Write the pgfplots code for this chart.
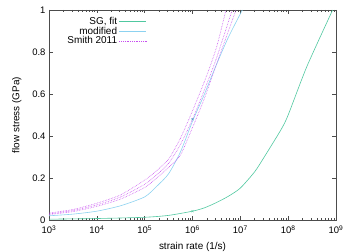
\documentclass[border=0pt]{standalone}
\usepackage{fontspec}
\setmainfont{Liberation Sans}
\usepackage{pgfplots}
\pgfplotsset{compat=1.18}
\definecolor{sg}{RGB}{80,200,160}
\definecolor{md}{RGB}{140,210,240}
\definecolor{sm}{RGB}{200,80,240}
\begin{document}
\begin{tikzpicture}
\begin{axis}[
  name=ax,
  scale only axis,
  width=287bp, height=210bp,
  xmode=log, xmin=1e3, xmax=1e9,
  ymin=0, ymax=1,
  xtick={1e3,1e4,1e5,1e6,1e7,1e8,1e9},
  xticklabels={10\textsuperscript{3},10\textsuperscript{4},10\textsuperscript{5},10\textsuperscript{6},10\textsuperscript{7},10\textsuperscript{8},10\textsuperscript{9}},
  ytick={0,0.2,0.4,0.6,0.8,1},
  yticklabels={0,0.2,0.4,0.6,0.8,1},
  tick align=inside, tick pos=both,
  major tick length=4bp, minor tick length=2bp,
  axis line style={gray!60!black, line width=0.8pt},
  every tick/.style={gray!60!black, line width=0.5pt},
  tick label style={font=\fontsize{9.5}{10}\selectfont},
  xticklabel style={yshift=-2bp},
  label style={font=\fontsize{10}{11}\selectfont},
  xlabel={strain rate (1/s)},
  ylabel={flow stress (GPa)},
  xlabel style={yshift=-1bp},
  ylabel style={yshift=4bp},
  legend style={draw=none, text=black, at={(0.352,0.985)}, anchor=north east,
    font=\fontsize{10}{11}\selectfont, legend plot pos=right, legend cell align=right,
    row sep=-3bp},
  legend image code/.code={\draw[#1] (0bp,0bp) -- (27bp,0bp);},
]
\addlegendimage{draw=sg, line width=0.8pt}
\addlegendentry{SG, fit}
\addlegendimage{draw=md, line width=0.8pt}
\addlegendentry{modified}
\addlegendimage{draw=sm, densely dotted, line width=0.8pt}
\addlegendentry{Smith 2011}
\addplot[color=sg, line width=0.6pt, smooth, tension=0.4, forget plot] coordinates {
 (1e3,0.004) (1e4,0.007) (1e5,0.013) (3.16e5,0.022) (1e6,0.042) (1.78e6,0.058)
 (3.16e6,0.083) (5.62e6,0.113) (1e7,0.152) (2e7,0.23) (3.16e7,0.30)
 (7.08e7,0.43) (1e8,0.50) (2.45e8,0.73) (8.5e8,1.0)};
\addplot[color=md, line width=0.6pt, smooth, tension=0.4, forget plot] coordinates {
 (1e3,0.02) (3.16e3,0.028) (1e4,0.042) (3.16e4,0.068) (1e5,0.11) (1.78e5,0.16)
 (3.16e5,0.22) (5.62e5,0.325) (1e6,0.47) (1.78e6,0.60) (3.16e6,0.74)
 (5.62e6,0.87) (1.1e7,1.0)};
\addplot[color=sm, densely dotted, line width=0.6pt, smooth, tension=0.4, forget plot] coordinates {
 (1e3,0.033) (3.16e3,0.05) (1e4,0.08) (3.16e4,0.12) (1e5,0.19) (1.78e5,0.235)
 (3.16e5,0.29) (5.62e5,0.39) (1e6,0.52) (1.78e6,0.66) (3.16e6,0.82) (5e6,1.0)};
\addplot[color=sm, densely dotted, line width=0.6pt, smooth, tension=0.4, forget plot] coordinates {
 (1e3,0.029) (3.16e3,0.045) (1e4,0.072) (3.16e4,0.11) (1e5,0.17) (1.78e5,0.215)
 (3.16e5,0.27) (5.62e5,0.36) (1e6,0.48) (1.78e6,0.62) (3.16e6,0.77) (6.76e6,1.0)};
\addplot[color=sm, densely dotted, line width=0.6pt, smooth, tension=0.4, forget plot] coordinates {
 (1e3,0.026) (3.16e3,0.04) (1e4,0.065) (3.16e4,0.10) (1e5,0.155) (1.78e5,0.20)
 (3.16e5,0.25) (5.62e5,0.31) (1e6,0.44) (1.78e6,0.58) (3.16e6,0.74) (8.1e6,1.0)};
\addplot[color=sg, only marks, mark=x, mark size=1.5pt, forget plot] coordinates {(1e6,0.042)};
\addplot[color=sg!70!blue, only marks, mark=x, mark size=1.5pt, forget plot] coordinates {(1e6,0.48)};
\coordinate (O) at (rel axis cs:0,0);
\end{axis}
\pgfresetboundingbox
\path (O) ++(-49bp,-32bp) rectangle ++(360bp,252bp);
\end{tikzpicture}
\end{document}
